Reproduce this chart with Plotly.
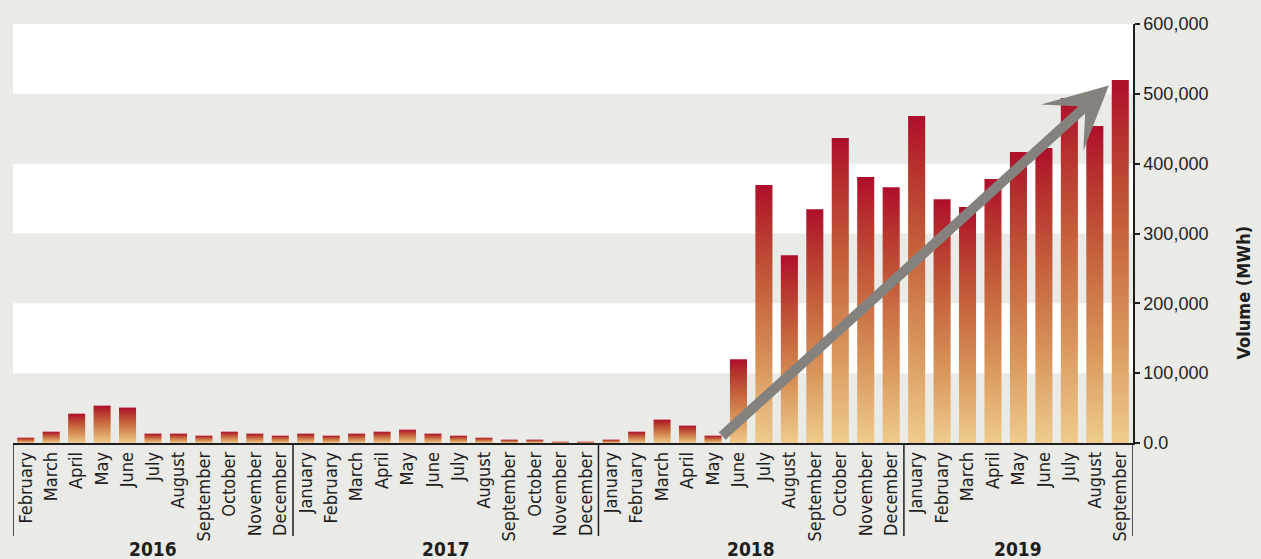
import plotly.graph_objects as go

# ---------------- data ----------------
years = ["2016", "2017", "2018", "2019"]
months_2016 = ["February", "March", "April", "May", "June", "July", "August",
               "September", "October", "November", "December"]
months_2017 = ["January", "February", "March", "April", "May", "June", "July",
               "August", "September", "October", "November", "December"]
months_2018 = ["January", "February", "March", "April", "May", "June", "July",
               "August", "September", "October", "November", "December"]
months_2019 = ["January", "February", "March", "April", "May", "June", "July",
               "August", "September"]

volume_2016 = [7600, 16200, 42000, 53500, 50700, 13400, 13400, 10500, 16200, 13400, 10500]
volume_2017 = [13400, 10500, 13400, 16200, 19100, 13400, 10500, 7600, 4800, 4800, 1900, 1900]
volume_2018 = [4800, 16200, 33500, 24900, 10500, 119900, 369300, 269000, 334900,
               436600, 380800, 366400]
volume_2019 = [468200, 349200, 337800, 377900, 416600, 422300, 494000, 453900, 519800]

y_tickvals = [0, 100000, 200000, 300000, 400000, 500000, 600000]
y_ticktext = ["0.0", "100,000", "200,000", "300,000", "400,000", "500,000", "600,000"]
white_bands = [(100000, 200000), (300000, 400000), (500000, 600000)]

# trend arrow: from (month index, value) to (month index, value)
trend_tail = (27.3, 8000)
trend_head = (42.55, 512000)

# ---------------- styling ----------------
BG = "#EAEAE6"
AXIS = "#1e1e1e"
NARROW = "DejaVu Sans Condensed, Liberation Sans Narrow, sans-serif"
REG = "Liberation Sans, Arial, sans-serif"
grad = [[0.0, "#EFCB8C"], [0.3, "#D8955B"], [0.6, "#C5603B"],
        [0.85, "#B5302D"], [1.0, "#AE0E2B"]]
half_w = 0.335

month_groups = [months_2016, months_2017, months_2018, months_2019]
value_groups = [volume_2016, volume_2017, volume_2018, volume_2019]
months = [m for g in month_groups for m in g]
values = [v for g in value_groups for v in g]
idx = list(range(len(values)))

fig = go.Figure()
for i, v in zip(idx, values):
    fig.add_trace(go.Scatter(
        x=[i - half_w, i - half_w, i + half_w, i + half_w, i - half_w],
        y=[0, v, v, 0, 0],
        mode="lines", line=dict(width=0),
        fill="toself",
        fillgradient=dict(type="vertical", colorscale=grad, start=0, stop=v),
        hoverinfo="skip", showlegend=False,
    ))

shapes = []
for y0, y1 in white_bands:
    shapes.append(dict(type="rect", xref="paper", yref="y", x0=0, x1=1, y0=y0, y1=y1,
                       fillcolor="white", line=dict(width=0), layer="below"))

# dividers between year groups
bounds = [-0.5]
for g in month_groups:
    bounds.append(bounds[-1] + len(g))
for b in bounds:
    shapes.append(dict(type="line", xref="x", yref="paper", x0=b, x1=b, y0=0, y1=-0.222,
                       line=dict(color=AXIS, width=1.5)))

annotations = []
for k, yr in enumerate(years):
    annotations.append(dict(x=(bounds[k] + bounds[k + 1]) / 2, y=-0.254, xref="x", yref="paper",
                            text="<b>%s</b>" % yr, showarrow=False, yanchor="middle",
                            font=dict(family=NARROW, size=19, color=AXIS)))
annotations.append(dict(x=1.0, xref="paper", xanchor="left", xshift=98,
                        y=0.358, yref="paper", yanchor="middle",
                        text="<b>Volume (MWh)</b>", textangle=-90, showarrow=False,
                        font=dict(family=NARROW, size=18, color=AXIS)))
annotations.append(dict(x=trend_head[0], y=trend_head[1], xref="x", yref="y",
                        ax=trend_tail[0], ay=trend_tail[1], axref="x", ayref="y",
                        text="", showarrow=True, arrowhead=3, arrowsize=1.05,
                        arrowwidth=10, arrowcolor="#85827E", standoff=0))

fig.update_layout(
    width=1261, height=559,
    margin=dict(l=13, r=128, t=24, b=116),
    paper_bgcolor=BG, plot_bgcolor=BG,
    shapes=shapes, annotations=annotations,
    showlegend=False,
    xaxis=dict(range=[-0.5, len(values) - 0.5], tickvals=idx, ticktext=months,
               tickangle=-90, showgrid=False, zeroline=False, automargin=False,
               showline=True, linecolor=AXIS, linewidth=1.5, ticks="",
               tickfont=dict(family=NARROW, size=18, color=AXIS)),
    yaxis=dict(range=[0, 600000], side="right", tickvals=y_tickvals, ticktext=y_ticktext,
               showgrid=False, zeroline=False, showline=True, linecolor=AXIS, linewidth=1.5,
               ticks="outside", ticklen=5, tickwidth=1.5, tickcolor=AXIS, automargin=False,
               tickfont=dict(family=REG, size=18, color=AXIS)),
)

fig.write_html("out.html")
